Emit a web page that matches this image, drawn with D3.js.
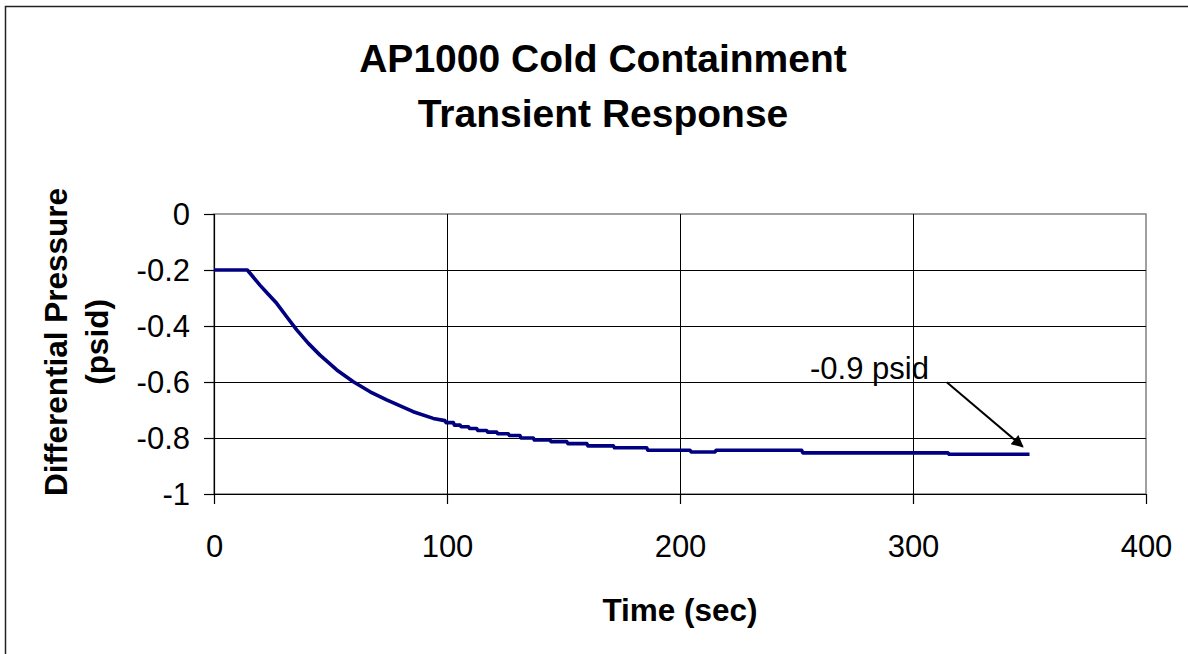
<!DOCTYPE html>
<html>
<head>
<meta charset="utf-8">
<script src="https://cdn.jsdelivr.net/npm/d3@7"></script>
<style>
  body { margin: 0; background: #fff; }
  text { font-family: "Liberation Sans", Arial, sans-serif; fill: #000; }
  .title { font-size: 39px; font-weight: bold; }
  .axis-title { font-size: 31.5px; font-weight: bold; }
  .tick-label { font-size: 31px; }
  .note { font-size: 31px; }
</style>
</head>
<body>
<div id="wrapper"></div>
<script>
// values
const titleLines = ["AP1000 Cold Containment", "Transient Response"]
const xTitle = "Time (sec)"
const yTitleLines = ["Differential Pressure", "(psid)"]
const xTicks = [0, 100, 200, 300, 400]
const yTicks = [0, -0.2, -0.4, -0.6, -0.8, -1]
const yTickLabels = ["0", "-0.2", "-0.4", "-0.6", "-0.8", "-1"]
const timeSec = [0, 14.3, 19.7, 22.9, 26.9, 31.2, 35.5, 40.5, 45.5, 52.7, 59.8, 67, 74.1, 85.5, 94.1, 99.1,
  99.6, 102.7, 103.2, 105.6, 106.1, 109.2, 109.7, 112.7, 113.2, 117.0, 117.5, 121.3, 121.8, 126.3,
  126.8, 131.3, 131.8, 137.0, 137.5, 144.2, 144.7, 151.4, 151.9, 160.0, 160.5, 171.4, 171.9, 185.7,
  186.2, 204.3, 204.8, 215.0, 215.5, 252.2, 252.7, 315.0, 315.5, 350]
const pressurePsid = [-0.2, -0.2, -0.254, -0.283, -0.319, -0.367, -0.414, -0.462, -0.504, -0.557, -0.599, -0.635, -0.664, -0.706, -0.730, -0.738,
  -0.745, -0.745, -0.754, -0.754, -0.760, -0.760, -0.766, -0.766, -0.773, -0.773, -0.779, -0.779, -0.785, -0.785,
  -0.791, -0.791, -0.800, -0.800, -0.807, -0.807, -0.813, -0.813, -0.820, -0.820, -0.828, -0.828, -0.835, -0.835,
  -0.844, -0.844, -0.850, -0.850, -0.844, -0.844, -0.853, -0.853, -0.858, -0.858]
// annotation: label and arrow, in data units
const noteText = "-0.9 psid"
const noteAt = [255.8, -0.59]
const arrowFrom = [314.5, -0.601]
const arrowTo = [347.1, -0.831]

const dimensions = {
  width: 1188,
  height: 654,
  margin: { top: 214, right: 42, bottom: 160, left: 214 },
}
dimensions.boundedWidth = dimensions.width - dimensions.margin.left - dimensions.margin.right
dimensions.boundedHeight = dimensions.height - dimensions.margin.top - dimensions.margin.bottom

const wrapper = d3.select("#wrapper")
  .append("svg")
  .attr("width", dimensions.width)
  .attr("height", dimensions.height)

// chart frame (right and bottom fall outside the picture)
wrapper.append("rect")
  .attr("x", 5.5).attr("y", 6.5)
  .attr("width", 1200).attr("height", 700)
  .attr("fill", "none").attr("stroke", "#222").attr("stroke-width", 1.5)

const bounds = wrapper.append("g")
  .attr("transform", `translate(${dimensions.margin.left},${dimensions.margin.top})`)

const xScale = d3.scaleLinear().domain([0, 400]).range([0, dimensions.boundedWidth])
const yScale = d3.scaleLinear().domain([-1, 0]).range([dimensions.boundedHeight, 0])

// plot area border
bounds.append("rect")
  .attr("width", dimensions.boundedWidth).attr("height", dimensions.boundedHeight)
  .attr("fill", "none").attr("stroke", "#808080").attr("stroke-width", 1.5)

// gridlines
bounds.selectAll(".hgrid")
  .data(yTicks.filter(d => d != 0 && d != -1))
  .enter().append("line")
  .attr("x1", 0).attr("x2", dimensions.boundedWidth)
  .attr("y1", d => Math.round(yScale(d)) + 0.5).attr("y2", d => Math.round(yScale(d)) + 0.5)
  .attr("stroke", "#000")
bounds.selectAll(".vgrid")
  .data(xTicks.filter(d => d != 0 && d != 400))
  .enter().append("line")
  .attr("y1", 0).attr("y2", dimensions.boundedHeight)
  .attr("x1", d => Math.round(xScale(d)) + 0.5).attr("x2", d => Math.round(xScale(d)) + 0.5)
  .attr("stroke", "#000")

// axes
const xAxis = d3.axisBottom(xScale).tickValues(xTicks).tickSize(10).tickFormat(d3.format("d"))
const xAxisGroup = bounds.append("g")
  .attr("transform", `translate(0,${dimensions.boundedHeight})`)
  .call(xAxis)
const yAxis = d3.axisLeft(yScale).tickValues(yTicks).tickSize(10)
  .tickFormat((d, i) => yTickLabels[i])
const yAxisGroup = bounds.append("g").call(yAxis)

xAxisGroup.selectAll(".domain, .tick line").attr("stroke", "#000").attr("stroke-width", 1.2)
yAxisGroup.selectAll(".domain, .tick line").attr("stroke", "#000").attr("stroke-width", 1.2)
xAxisGroup.select(".domain").attr("d", `M0,0.5H${dimensions.boundedWidth}`)
yAxisGroup.select(".domain").attr("d", `M0.5,0V${dimensions.boundedHeight}`)
xAxisGroup.selectAll(".tick text")
  .attr("class", "tick-label")
  .attr("y", 63).attr("dy", 0)
yAxisGroup.selectAll(".tick text")
  .attr("class", "tick-label")
  .attr("x", -24).attr("dy", "0.35em")
xAxisGroup.attr("font-family", null).attr("font-size", null)
yAxisGroup.attr("font-family", null).attr("font-size", null)

// pressure line
const points = d3.zip(timeSec, pressurePsid)
const lineGenerator = d3.line()
  .x(d => xScale(d[0]))
  .y(d => yScale(d[1]))
bounds.append("path")
  .attr("d", lineGenerator(points))
  .attr("fill", "none")
  .attr("stroke", "#000080")
  .attr("stroke-width", 3.6)
  .attr("stroke-linejoin", "round")

// annotation
const defs = wrapper.append("defs")
defs.append("marker")
  .attr("id", "arrowhead")
  .attr("viewBox", "0 0 10 10")
  .attr("refX", 9).attr("refY", 5)
  .attr("markerWidth", 7).attr("markerHeight", 6)
  .attr("markerUnits", "strokeWidth")
  .attr("orient", "auto")
  .append("path").attr("d", "M0,0L10,5L0,10z").attr("fill", "#000")
bounds.append("line")
  .attr("x1", xScale(arrowFrom[0])).attr("y1", yScale(arrowFrom[1]))
  .attr("x2", xScale(arrowTo[0])).attr("y2", yScale(arrowTo[1]))
  .attr("stroke", "#000").attr("stroke-width", 2)
  .attr("marker-end", "url(#arrowhead)")
bounds.append("text")
  .attr("class", "note")
  .attr("x", xScale(noteAt[0])).attr("y", yScale(noteAt[1]))
  .text(noteText)

// titles
wrapper.append("text")
  .attr("class", "title")
  .attr("text-anchor", "middle")
  .selectAll("tspan")
  .data(titleLines)
  .enter().append("tspan")
  .attr("x", 603)
  .attr("y", (d, i) => 72 + i * 55)
  .text(d => d)

wrapper.append("text")
  .attr("class", "axis-title")
  .attr("text-anchor", "middle")
  .attr("x", dimensions.margin.left + dimensions.boundedWidth / 2)
  .attr("y", 621)
  .text(xTitle)

wrapper.append("text")
  .attr("class", "axis-title")
  .attr("text-anchor", "middle")
  .attr("transform", "translate(0,342) rotate(-90)")
  .selectAll("tspan")
  .data(yTitleLines)
  .enter().append("tspan")
  .attr("x", 0)
  .attr("y", (d, i) => 67 + i * 41)
  .text(d => d)
</script>
</body>
</html>
